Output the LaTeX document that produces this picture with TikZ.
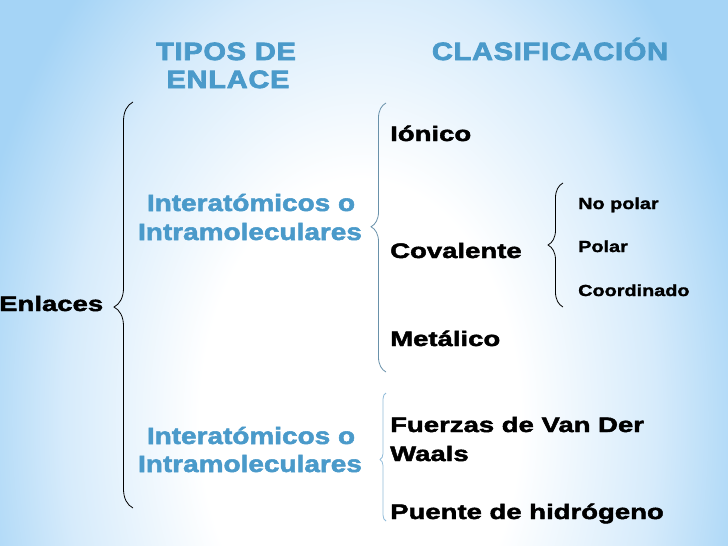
\documentclass[tikz,border=0pt]{standalone}
\usepackage{fontspec}
\newfontfamily\blkfont{Liberation Sans}[UprightFont={* Bold},FakeStretch=1.31,FakeBold=2.2]
\newfontfamily\smallfont{Liberation Sans}[UprightFont={* Bold},FakeStretch=1.24,FakeBold=1.6]
\newfontfamily\bluefont{Liberation Sans}[UprightFont={* Bold},FakeStretch=1.19,FakeBold=2.2]
\newfontfamily\ttlfont{Liberation Sans}[UprightFont={* Bold},FakeStretch=1.16,FakeBold=3,LetterSpace=3]
\usetikzlibrary{decorations.pathreplacing}
\definecolor{tblue}{RGB}{74,154,202}
\definecolor{bgblue}{RGB}{165,212,246}
\definecolor{bglight}{RGB}{214,235,251}
\definecolor{brgray}{RGB}{105,145,170}
\definecolor{brlight}{RGB}{145,188,218}
\pgfdeclareradialshading{bgshade}{\pgfpoint{0bp}{0bp}}{color(0bp)=(white); color(10bp)=(white); color(18.5bp)=(bglight); color(25bp)=(bgblue); color(50bp)=(bgblue)}
\tikzset{
  blk/.style={inner sep=0pt, anchor=base west, font=\blkfont\fontsize{21}{25}\selectfont, text=black},
  small/.style={inner sep=0pt, anchor=base west, font=\smallfont\fontsize{16}{19}\selectfont, text=black},
  bluetxt/.style={inner sep=0pt, anchor=base, font=\bluefont\fontsize{23.5}{28}\selectfont, text=tblue},
  ttl/.style={inner sep=0pt, anchor=base, font=\ttlfont\fontsize{25}{28}\selectfont, text=tblue},
  brc/.style={decorate, line width=0.8pt},
}
\begin{document}
\begin{tikzpicture}[x=1pt,y=-1pt]
\useasboundingbox (0,0) rectangle (728,546);
\begin{scope}
\clip (0,0) rectangle (728,546);
\fill[bgblue] (0,0) rectangle (728,546);
\shade[shading=bgshade] (360,420) ellipse (400 and 600);
\end{scope}
% titles
\node[ttl] (t1) at (226,60) {TIPOS DE};
\node[ttl] (t2) at (228,88) {ENLACE};
\node[ttl] (t3) at (550,60) {CLASIFICACIÓN};
% left
\node[blk] (enl) at (-1,311) {Enlaces};
\node[bluetxt] (ia1) at (251,211) {Interatómicos o};
\node[bluetxt] (im1) at (250,240) {Intramoleculares};
\node[bluetxt] (ia2) at (251,444) {Interatómicos o};
\node[bluetxt] (im2) at (250,472) {Intramoleculares};
% right column
\node[blk] (ion) at (390,141) {Iónico};
\node[blk] (cov) at (390,258) {Covalente};
\node[blk] (met) at (390,346) {Metálico};
\node[blk] (fue) at (390,432) {Fuerzas de Van Der};
\node[blk] (waa) at (390,461) {Waals};
\node[blk] (pue) at (390,519) {Puente de hidrógeno};
\node[small] (np) at (578,209) {No polar};
\node[small] (po) at (578,252) {Polar};
\node[small] (co) at (578,296) {Coordinado};
% braces
\coordinate (b1t) at (133,102);
\coordinate (b1b) at (133,508);
\draw[brc, black, decoration={brace, amplitude=19pt, aspect=0.495}] (b1b) -- (b1t);
\coordinate (b2t) at (386,103);
\coordinate (b2b) at (386,372);
\draw[brc, brgray, decoration={brace, amplitude=15pt, aspect=0.54}] (b2b) -- (b2t);
\coordinate (b3t) at (386,393);
\coordinate (b3b) at (386,521);
\draw[brc, brlight, decoration={brace, amplitude=6pt, aspect=0.48}] (b3b) -- (b3t);
\coordinate (b4t) at (563,183);
\coordinate (b4b) at (563,307);
\draw[brc, black, decoration={brace, amplitude=15pt, aspect=0.5}] (b4b) -- (b4t);
\end{tikzpicture}
\end{document}
